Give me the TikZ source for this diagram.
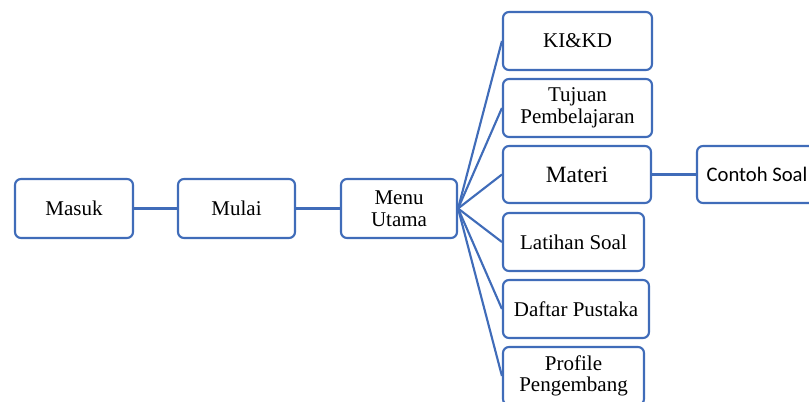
\documentclass[tikz,border=0pt]{standalone}
\usepackage{fontspec}
\setmainfont{Liberation Serif}
\newfontfamily\carlito{Carlito}
\definecolor{boxblue}{RGB}{64,108,185}
\tikzset{
  box/.style={draw=boxblue, line width=1.6pt, rounded corners=4.5pt, fill=white,
    inner sep=0pt, align=center, font=\fontsize{15.75}{16.2}\selectfont},
  link/.style={draw=boxblue, line width=1.6pt}
}
\begin{document}
\begin{tikzpicture}[x=0.75pt,y=-0.75pt]
\useasboundingbox (0,0) rectangle (809,402);
\node[box, minimum width=88.5pt, minimum height=44.25pt] (masuk) at (74,208.5) {Masuk};
\node[box, minimum width=87.75pt, minimum height=44.25pt] (mulai) at (236.5,208.5) {Mulai};
\node[box, minimum width=87pt, minimum height=44.25pt] (menu) at (399,208.5) {Menu\\Utama};
\node[box, minimum width=111.75pt, minimum height=43.5pt] (kikd) at (577.5,41) {KI\&KD};
\node[box, minimum width=111.75pt, minimum height=43.5pt] (tujuan) at (577.5,108) {Tujuan\\Pembelajaran};
\node[box, minimum width=111pt, minimum height=42.75pt, font=\fontsize{17.5}{18}\selectfont] (materi) at (577,174.5) {Materi};
\node[box, minimum width=90pt, minimum height=42.75pt, font=\carlito\fontsize{15.5}{16}\selectfont] (contoh) at (757,174.5) {Contoh Soal};
\node[box, minimum width=105.75pt, minimum height=43.5pt] (latihan) at (573.5,242) {Latihan Soal};
\node[box, minimum width=109.5pt, minimum height=43.5pt] (daftar) at (576,309) {Daftar Pustaka};
\node[box, minimum width=105.75pt, minimum height=43.5pt] (profile) at (573.5,376) {Profile\\Pengembang};
\draw[link] (masuk.east) -- (mulai.west);
\draw[link] (mulai.east) -- (menu.west);
\foreach \t in {kikd,tujuan,materi,latihan,daftar,profile}
  \draw[link] (menu.east) -- (\t.west);
\draw[link] (materi.east) -- (contoh.west);
\end{tikzpicture}
\end{document}
